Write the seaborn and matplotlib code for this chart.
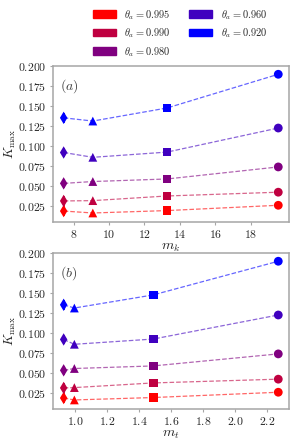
import matplotlib
matplotlib.use("Agg")
import matplotlib.pyplot as plt
import matplotlib.patches as mpatches
import numpy as np
import pandas as pd
import seaborn as sns

# values
theta_labels = ["0.995", "0.990", "0.980", "0.960", "0.920"]
colors = ["#ff0000", "#bf0040", "#800080", "#4000bf", "#0000ff"]
shapes = ["d", "^", "s", "o"]
m_k = [7.43, 9.08, 13.28, 19.57]
m_t = [0.927, 0.994, 1.487, 2.27]
k_max = {
    "0.995": [0.019, 0.0166, 0.0196, 0.0262],
    "0.990": [0.0316, 0.032, 0.0378, 0.0425],
    "0.980": [0.0535, 0.0558, 0.059, 0.074],
    "0.960": [0.092, 0.086, 0.0925, 0.1225],
    "0.920": [0.1352, 0.1312, 0.1475, 0.1895],
}
diamond_err = 0.006

sns.set_style("whitegrid", {"axes.grid": False, "xtick.bottom": True, "ytick.left": True,
                            "axes.edgecolor": ".65"})
plt.rcParams["font.family"] = "serif"
plt.rcParams["font.serif"] = ["cmr10", "DejaVu Serif"]
plt.rcParams["mathtext.fontset"] = "cm"
plt.rcParams["axes.formatter.use_mathtext"] = True
plt.rcParams["axes.unicode_minus"] = False


def long_frame(xvals):
    rows = []
    for lab in theta_labels:
        for x, y, m in zip(xvals, k_max[lab], shapes):
            rows.append({"x": x, "y": y, "theta": lab, "shape": m})
    return pd.DataFrame(rows)


def draw_panel(ax, xvals, xlabel, tag):
    df = long_frame(xvals)
    pal = dict(zip(theta_labels, colors))
    sns.lineplot(data=df, x="x", y="y", hue="theta", palette=pal, ax=ax,
                 linestyle="--", linewidth=0.9, alpha=0.6, legend=False, sort=False)
    sns.scatterplot(data=df, x="x", y="y", hue="theta", style="shape", palette=pal,
                    markers={m: m for m in shapes}, s=40, linewidth=0, ax=ax,
                    legend=False, zorder=3)
    dia = df[df["shape"] == "d"]
    for _, r in dia.iterrows():
        ax.errorbar(r["x"], r["y"], yerr=diamond_err, fmt="none",
                    ecolor=pal[r["theta"]], elinewidth=1.2, capsize=0, zorder=2)
    ax.set_ylim(0.0055, 0.2)
    ax.set_yticks([0.025, 0.05, 0.075, 0.1, 0.125, 0.15, 0.175, 0.2])
    ax.yaxis.set_major_formatter(matplotlib.ticker.FormatStrFormatter("$%.3f$"))
    ax.set_xlabel(xlabel, fontsize=10, labelpad=1)
    ax.set_ylabel(r"$K_{\max}$", fontsize=9.5, labelpad=0)
    ax.tick_params(labelsize=8.5, length=2.5, width=0.8, color=".65", pad=2)
    ax.text(0.03, 0.93, tag, transform=ax.transAxes, fontsize=10, va="top", ha="left",
            color=".25")
    for sp in ax.spines.values():
        sp.set_linewidth(1.1)


fig = plt.figure(figsize=(2.94, 4.42), dpi=100)
ax1 = fig.add_axes([0.180, 0.498, 0.803, 0.353])
ax2 = fig.add_axes([0.180, 0.075, 0.803, 0.353])
draw_panel(ax1, m_k, r"$m_k$", r"$(a)$")
ax1.set_xticks([8, 10, 12, 14, 16, 18])
ax1.xaxis.set_major_formatter(matplotlib.ticker.FormatStrFormatter("$%d$"))
draw_panel(ax2, m_t, r"$m_t$", r"$(b)$")
ax2.set_xticks([1.0, 1.2, 1.4, 1.6, 1.8, 2.0, 2.2])
ax2.xaxis.set_major_formatter(matplotlib.ticker.FormatStrFormatter("$%.1f$"))
for ax in (ax1, ax2):
    ax.yaxis.set_label_coords(-0.15, 0.5)

handles = [mpatches.Patch(color=c, label=r"$\theta_a = %s$" % lab)
           for c, lab in zip(colors, theta_labels)]
fig.legend(handles=handles, loc="upper left", bbox_to_anchor=(0.29, 1.0), ncol=2,
           frameon=False, fontsize=7.5, handlelength=2.2, handleheight=0.75,
           columnspacing=1.8, labelspacing=0.45, handletextpad=0.8, borderpad=0.25)

fig.savefig("out.png", dpi=100)
